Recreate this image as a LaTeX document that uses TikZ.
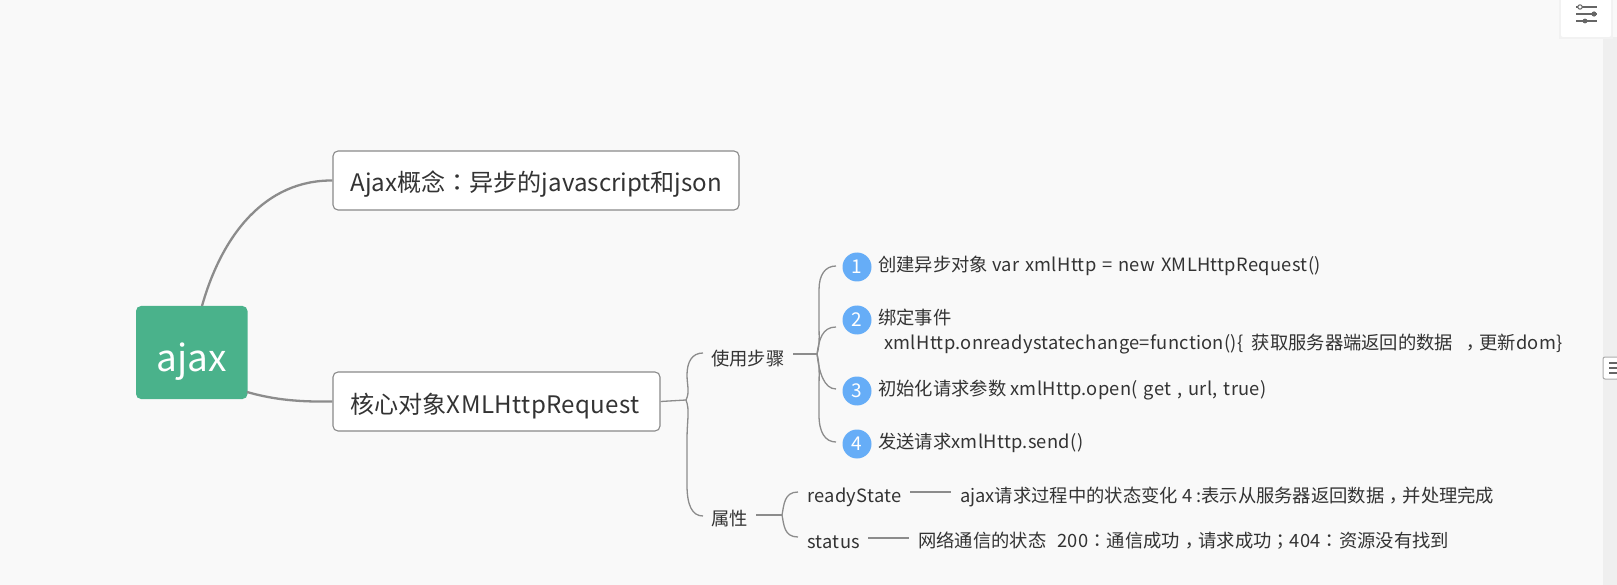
\documentclass[tikz,border=0pt]{standalone}
\usepackage{fontspec}
\setmainfont{Noto Sans CJK SC}
\newfontfamily\latnfont[LetterSpace=1.7,WordSpace=1.35]{Noto Sans CJK SC}
\newfontfamily\punfont{Noto Sans CJK TC}
\newcommand{\latn}[1]{{\latnfont #1}}
\newcommand{\zhcomma}{\raisebox{-.27em}{\punfont ，}}
\newcommand{\zhsemi}{{\punfont ；}}
\newcommand{\zhcolon}{{\punfont ：}}
\newcommand{\boxtext}[3]{\makebox[#1][l]{\raisebox{#2}[0pt][0pt]{#3}}}
\definecolor{pagebg}{HTML}{F9F9F9}
\definecolor{rootgreen}{HTML}{4AB28B}
\definecolor{badgeblue}{HTML}{66ADF7}
\definecolor{linegrey}{HTML}{8C8C8C}
\definecolor{boxgrey}{HTML}{8A8A8A}
\definecolor{inktext}{HTML}{333333}
\definecolor{barbg}{HTML}{EFEFEF}
\definecolor{toolgrey}{HTML}{666666}
\tikzset{
  rootbox/.style={fill=rootgreen,rounded corners=5pt,minimum width=111.5pt,minimum height=93pt,inner sep=0pt,text=white,font=\fontsize{37}{40}\selectfont},
  topicbox/.style={draw=boxgrey,line width=1.1pt,fill=white,rounded corners=5pt,minimum height=59pt,inner ysep=0pt,inner xsep=17.5pt,text=inktext,font=\fontsize{24.1}{28}\selectfont},
  leaf/.style={anchor=west,inner sep=0pt,text=inktext,font=\fontsize{18.3}{22}\selectfont},
  badge/.style={circle,fill=badgeblue,minimum size=29pt,inner sep=0pt,text=white,font=\fontsize{19}{22}\selectfont},
  mainlink/.style={draw=linegrey,line width=2.3pt},
  sublink/.style={draw=linegrey,line width=1.3pt},
  toolline/.style={draw=toolgrey,line width=1.4pt}
}
\begin{document}
\begin{tikzpicture}[x=1pt,y=-1pt]
\useasboundingbox (0,0) rectangle (1617,585);
\fill[pagebg] (0,0) rectangle (1617,585);
% right side bar and controls
\fill[barbg] (1603,37) rectangle (1617,585);
\node[draw=boxgrey!70,line width=1pt,fill=white,rounded corners=2pt,minimum width=16pt,minimum height=22pt,inner sep=0pt] (handle) at (1611,368) {};
\foreach \yy in {363,368,373}{\draw[toolline] (1609,\yy) -- (1617,\yy);}
\fill[black!5] (1559,0) rectangle (1613,39);
\node[fill=white,rounded corners=2pt,minimum width=50pt,minimum height=40pt,inner sep=0pt] (panel) at (1586,17) {};
\draw[toolline] (1576,7) -- (1597,7);
\draw[toolline] (1576,14) -- (1597,14);
\draw[toolline] (1576,21) -- (1597,21);
\draw[toolgrey,fill=white,line width=1pt] (1580,7) circle (2.2pt);
\fill[toolgrey] (1594,14) circle (2.6pt);
\fill[toolgrey] (1585,21) circle (2.4pt);
% main nodes
\node[rootbox] (root) at (191.75,352.5) {\raisebox{-19pt}[0pt][0pt]{ajax}};
\node[topicbox] (concept) at (536,180.5) {\boxtext{371pt}{-11pt}{Ajax概念\zhcolon 异步的javascript和json}};
\node[topicbox] (core) at (496.5,401.5) {\boxtext{292pt}{-11.5pt}{核心对象{\addfontfeatures{LetterSpace=1.7}XMLHttpRequest}}};
% leaves
\node[leaf] (steps) at (711,358.5) {使用步骤};
\node[leaf] (attrs) at (711,518.5) {属性};
\node[badge] (b1) at (857,267) {\raisebox{-1.5pt}{1}};
\node[badge] (b2) at (857,320) {\raisebox{-1.5pt}{2}};
\node[badge] (b3) at (857,391) {\raisebox{-1.5pt}{3}};
\node[badge] (b4) at (857,444) {\raisebox{-1.5pt}{4}};
\node[leaf] (t1) at (878,266) {创建异步对象 \latn{var xmlHttp = new XMLHttpRequest()}};
\node[leaf] (t2a) at (878,318) {绑定事件};
\node[leaf] (t2b) at (884,344) {\latn{xmlHttp.onreadystatechange=function()\{} \ 获取服务器端返回的数据 \ \zhcomma 更新\latn{dom\}}};
\node[leaf] (t3) at (878,390) {初始化请求参数 \latn{xmlHttp.open( get , url, true)}};
\node[leaf] (t4) at (878,443) {发送请求\latn{xmlHttp.send()}};
\node[leaf] (rs) at (807,497) {\latn{readyState}};
\node[leaf] (rsd) at (960,497) {ajax请求过程中的状态变化 4 :表示从服务器返回数据\zhcomma 并处理完成};
\node[leaf] (st) at (807,542) {\latn{status}};
\node[leaf] (std) at (918,542) {网络通信的状态 \ \hspace{3pt}\latn{200}\zhcolon 通信成功\zhcomma 请求成功\zhsemi\latn{404}\zhcolon 资源没有找到};
% connector anchors
\coordinate (j1) at (686,400);
\coordinate (steps-in) at (703,353);
\coordinate (attrs-in) at (703,516);
\coordinate (steps-out) at (793,354);
\coordinate (j2) at (817,354);
\coordinate (b1-in) at (836,266);
\coordinate (b2-in) at (836,327);
\coordinate (b3-in) at (836,389);
\coordinate (b4-in) at (836,442);
\coordinate (attrs-out) at (756,515);
\coordinate (j3) at (782,515);
\coordinate (rs-in) at (798,492);
\coordinate (st-in) at (798,537);
\coordinate (rs-a) at (910,492);
\coordinate (rs-b) at (951,492);
\coordinate (st-a) at (868,538);
\coordinate (st-b) at (909,538);
% connectors
\draw[mainlink] (202,306) .. controls (222,235) and (265,180) .. (concept.west);
\draw[mainlink] (247,392) .. controls (275,400) and (300,402) .. (core.west);
\draw[sublink] (core.east) -- (j1);
\draw[sublink] (j1) .. controls (690,392) and (687,385) .. (687,375) .. controls (687,362) and (692,353) .. (steps-in);
\draw[sublink] (j1) .. controls (690,410) and (687,420) .. (687,440) -- (687,485) .. controls (687,505) and (692,516) .. (attrs-in);
\draw[sublink] (steps-out) -- (j2);
\draw[sublink] (j2) .. controls (820,345) and (819,335) .. (819,325) -- (819,290) .. controls (819,275) and (825,266) .. (b1-in);
\draw[sublink] (j2) .. controls (819,340) and (822,327) .. (b2-in);
\draw[sublink] (j2) .. controls (819,372) and (824,389) .. (b3-in);
\draw[sublink] (j2) .. controls (820,365) and (819,375) .. (819,390) -- (819,415) .. controls (819,432) and (825,442) .. (b4-in);
\draw[sublink] (attrs-out) -- (j3);
\draw[sublink] (j3) .. controls (784,505) and (784,492) .. (rs-in);
\draw[sublink] (j3) .. controls (784,525) and (784,537) .. (st-in);
\draw[sublink] (rs-a) -- (rs-b);
\draw[sublink] (st-a) -- (st-b);
\end{tikzpicture}
\end{document}
